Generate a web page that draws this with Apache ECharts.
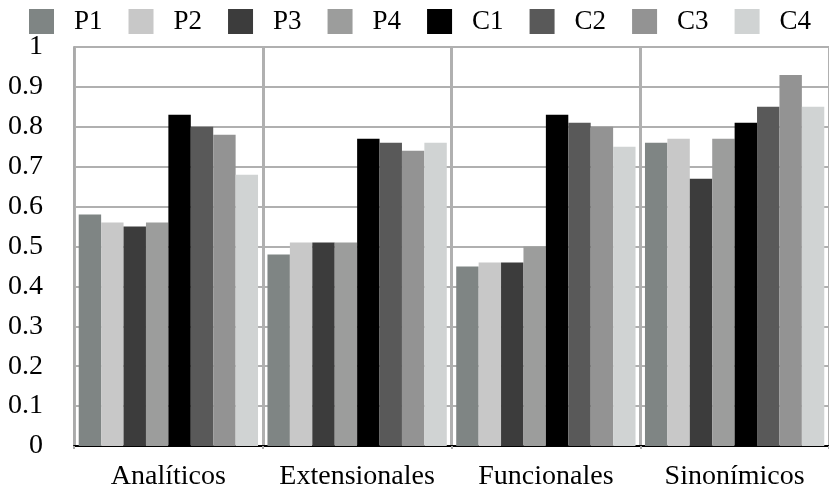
<!DOCTYPE html>
<html>
<head>
<meta charset="utf-8">
<script src="https://cdn.jsdelivr.net/npm/echarts@6/dist/echarts.min.js"></script>
<style>html,body{margin:0;padding:0;background:#fff;}#c{width:829px;height:493px;}</style>
</head>
<body>
<div id="c"></div>
<script>
var categories = ['Analíticos', 'Extensionales', 'Funcionales', 'Sinonímicos'];
var seriesNames = ['P1', 'P2', 'P3', 'P4', 'C1', 'C2', 'C3', 'C4'];
var P1 = [0.58, 0.48, 0.45, 0.76];
var P2 = [0.56, 0.51, 0.46, 0.77];
var P3 = [0.55, 0.51, 0.46, 0.67];
var P4 = [0.56, 0.51, 0.50, 0.77];
var C1 = [0.83, 0.77, 0.83, 0.81];
var C2 = [0.80, 0.76, 0.81, 0.85];
var C3 = [0.78, 0.74, 0.80, 0.93];
var C4 = [0.68, 0.76, 0.75, 0.85];
var seriesData = [P1, P2, P3, P4, C1, C2, C3, C4];
var colors = ['#7f8584', '#c8c8c8', '#3c3c3c', '#9c9d9c', '#000000', '#595959', '#939393', '#d0d3d3'];

var font = 'Liberation Serif';
var chart = echarts.init(document.getElementById('c'), null, {renderer: 'canvas'});
chart.setOption({
  animation: false,
  backgroundColor: '#fff',
  color: colors,
  legend: {
    left: 29, top: 8, padding: 0,
    itemWidth: 25, itemHeight: 25, itemGap: 26,
    icon: 'rect',
    textStyle: {fontFamily: font, fontSize: 27, color: '#000', padding: [0, 0, 0, 15]},
    data: seriesNames
  },
  grid: {left: 74, top: 47, width: 760, bottom: 47, containLabel: false},
  xAxis: {
    type: 'category',
    data: categories,
    axisLine: {lineStyle: {color: '#000', width: 2}},
    axisTick: {show: true, interval: 0, length: 3, lineStyle: {color: '#aaa', width: 2}},
    splitLine: {show: true, interval: 0, lineStyle: {color: '#b0b0b0', width: 3}},
    axisLabel: {interval: 0, hideOverlap: false, fontFamily: font, fontSize: 28, color: '#000', margin: 17}
  },
  yAxis: {
    type: 'value',
    min: 0, max: 1, interval: 0.1,
    axisLine: {show: true, lineStyle: {color: '#aaa', width: 2}},
    axisTick: {show: false},
    splitLine: {show: true, lineStyle: {color: '#b0b0b0', width: 2}},
    axisLabel: {fontFamily: font, fontSize: 28, color: '#000', margin: 31,
      formatter: function (v) { return String(Math.round(v * 10) / 10); }}
  },
  series: seriesNames.map(function (n, i) {
    return {
      name: n, type: 'bar', data: seriesData[i],
      barGap: '0%', barCategoryGap: '5%',
      itemStyle: {color: colors[i]}
    };
  })
});
</script>
</body>
</html>
